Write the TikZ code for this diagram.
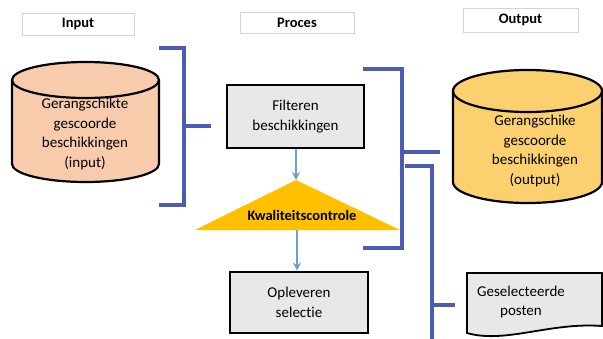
\documentclass[tikz,border=0pt]{standalone}
\usepackage{fontspec}
\setmainfont{Carlito}[Ligatures=NoCommon]
\usetikzlibrary{arrows.meta}
\definecolor{brk}{HTML}{4A5DB3}
\definecolor{arrc}{HTML}{6A9FCF}
\definecolor{peach}{HTML}{F8CBAD}
\definecolor{gold}{HTML}{FBD06E}
\definecolor{tri}{HTML}{FFC000}
\definecolor{boxfill}{HTML}{E8E8EA}
\definecolor{lblbrd}{HTML}{D4D4D4}
\begin{document}
\begin{tikzpicture}[x=1pt,y=1pt,
  labelbox/.style={draw=lblbrd, line width=0.8pt, fill=white, font=\fontsize{14.5}{16}\selectfont\bfseries, inner sep=0pt},
  procbox/.style={draw=black, line width=2.6pt, fill=boxfill, align=center, font=\fontsize{15}{20}\selectfont, inner sep=0pt},
  bodytext/.style={align=center, font=\fontsize{15}{19.5}\selectfont, inner sep=0pt},
  brack/.style={draw=brk, line width=3.2pt},
  arr/.style={draw=arrc, line width=1.4pt, -{Stealth[length=8pt,width=8pt]}},
  cyl/.style={draw=black, line width=2.2pt}]
\useasboundingbox (0,0) rectangle (603,-338);
% labels
\node[labelbox, minimum width=112, minimum height=22] (lin) at (78,-24) {Input};
\node[labelbox, minimum width=114, minimum height=21] (lpr) at (297,-23) {Proces};
\node[labelbox, minimum width=115, minimum height=24] (lout) at (520.5,-20) {Output};
% input cylinder
\path[cyl, fill=peach] (12,-80) -- (12,-164) arc[start angle=180, end angle=360, x radius=73.5, y radius=18] -- (159,-80) arc[start angle=0, end angle=180, x radius=73.5, y radius=18] -- cycle;
\draw[cyl] (12,-80) arc[start angle=180, end angle=360, x radius=73.5, y radius=18];
\node[bodytext] (cin) at (85,-134) {Gerangschikte\\gescoorde\\beschikkingen\\(input)};
% output cylinder
\path[cyl, fill=gold] (453,-91) -- (453,-182) arc[start angle=180, end angle=360, x radius=74.5, y radius=21] -- (602,-91) arc[start angle=0, end angle=180, x radius=74.5, y radius=21] -- cycle;
\draw[cyl] (453,-91) arc[start angle=180, end angle=360, x radius=74.5, y radius=21];
\node[bodytext] (cout) at (535,-151) {Gerangschike\\gescoorde\\beschikkingen\\(output)};
% process boxes
\node[procbox, minimum width=137, minimum height=63] (filt) at (295.5,-116.5) {Filteren\\beschikkingen};
\node[procbox, minimum width=138, minimum height=61] (opl) at (299,-302.5) {Opleveren\\selectie};
% triangle
\coordinate (apex) at (296,-180);
\coordinate (bl) at (195,-230);
\coordinate (br) at (400,-230);
\fill[tri] (apex) -- (br) -- (bl) -- cycle;
\node[font=\fontsize{14.5}{16}\selectfont\bfseries, inner sep=0pt] (kc) at (302,-215) {Kwaliteitscontrole};
\coordinate (tbase) at (297,-230);
% arrows
\draw[arr] (filt.south -| apex) -- (apex);
\draw[arr] (tbase) -- (tbase |- opl.north);
% document
\path[draw=black, line width=1.8pt, fill=boxfill] (467,-273) -- (467,-333) .. controls (505,-344) and (550,-322) .. (602,-326) -- (602,-273) -- cycle;
\node[bodytext] (doc) at (521,-302) {Geselecteerde\\posten};
% brackets
\coordinate (b1t) at (184,-48);
\coordinate (b1b) at (184,-205);
\coordinate (b1m) at (184,-126);
\draw[brack] (159,-48) -- (b1t) -- (b1b) -- (159,-205);
\draw[brack] (b1m) -- (211,-126);
\coordinate (b2t) at (402,-69);
\coordinate (b2b) at (402,-248);
\coordinate (b2m) at (402,-152);
\draw[brack] (363,-69) -- (b2t) -- (b2b) -- (363,-248);
\draw[brack] (b2m) -- (440,-152);
\coordinate (b3t) at (432,-166);
\coordinate (b3m) at (432,-305);
\draw[brack] (405,-166) -- (b3t) -- (432,-345);
\draw[brack] (b3m) -- (455,-305);
\end{tikzpicture}
\end{document}
